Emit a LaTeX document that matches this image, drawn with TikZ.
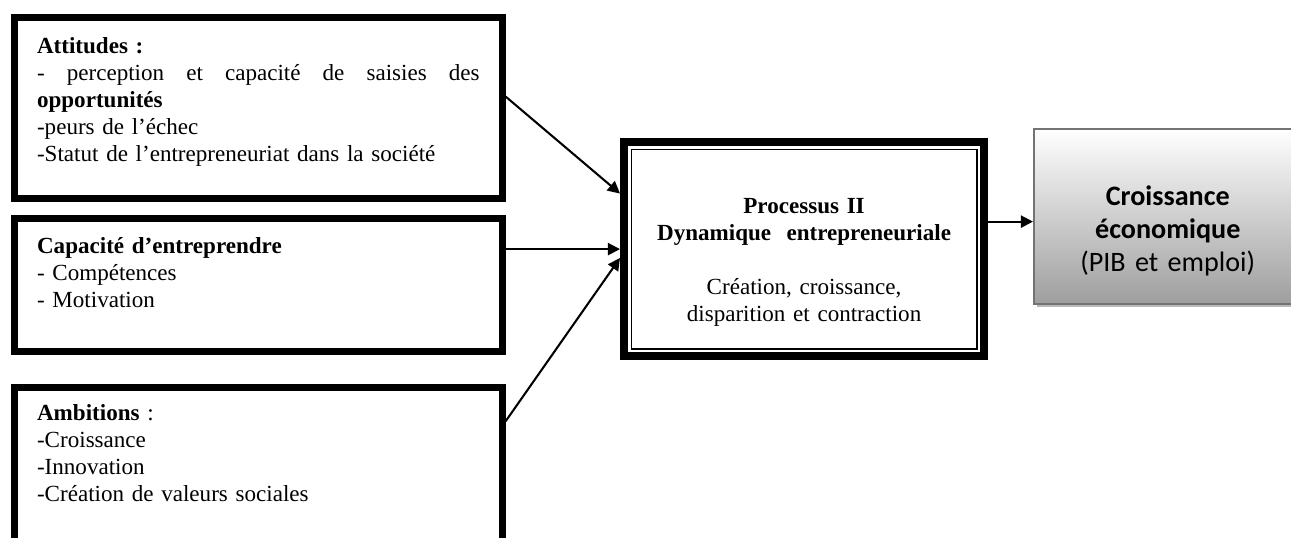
\documentclass[tikz,border=0pt]{standalone}
\usepackage{fontspec}
\setmainfont{Liberation Serif}
\newfontfamily\calibri{Carlito}
\usepackage{tikz}
\usetikzlibrary{calc}
\usetikzlibrary{arrows.meta}
\usetikzlibrary{positioning}
\usetikzlibrary{shadows}

\begin{document}
\begin{tikzpicture}[x=0.5333pt,y=-0.5333pt,
  factor/.style={draw,line width=3.8pt,align=left,text width=236pt,inner xsep=12pt,inner ysep=0pt,
    anchor=north west,font=\fontsize{12.3}{14.4}\selectfont},
  arr/.style={line width=1.1pt,-{Triangle[length=6.5pt,width=6.5pt]}}]

\useasboundingbox (0,0) rectangle (1291,537);
\clip (0,0) rectangle (1291,537);

% the three inputs on the left
\node[factor,text height=19pt,text depth=77.3pt] (att) at (11,14) {\textbf{Attitudes :}\\
\makebox[236pt][s]{\spaceskip=0pt\relax - perception et capacité de saisies des}\\
\textbf{opportunités}\\
-peurs de l’échec\\
-Statut de l’entrepreneuriat dans la société};

\node[factor,text height=19pt,text depth=52.2pt,below=6.9pt of att] (cap) {\textbf{Capacité d’entreprendre}\\
- Compétences\\
- Motivation};

\node[factor,text height=17.5pt,text depth=72.3pt,below=15.5pt of cap] (amb) {\textbf{Ambitions} :\\
-Croissance\\
-Innovation\\
-Création de valeurs sociales};

% process box, thick-thin frame
\node[draw,line width=4.3pt,anchor=north west,text width=192pt,inner sep=0pt,align=center,
  text height=37.9pt,text depth=76.3pt,font=\fontsize{12.3}{14.4}\selectfont] (proc) at (620,138)
  {\textbf{Processus II}\\\textbf{Dynamique\ \ entrepreneuriale}\\[14.4pt]
   Création, croissance,\\disparition et contraction};
\draw[line width=0.8pt] ($(proc.north west)+(11.3,11.3)$) rectangle ($(proc.south east)+(-11.3,-11.3)$);

% output
\node[draw=black!55,line width=0.8pt,top color=white,bottom color=black!38,
  drop shadow={shadow xshift=1.5pt,shadow yshift=-1.6pt,fill=black!28,opacity=1},
  anchor=north west,text width=142.9pt,inner sep=0pt,align=center,
  text height=41.1pt,text depth=52.3pt,font=\calibri\fontsize{15}{17.6}\selectfont] (growth) at (1033,128)
  {\textbf{Croissance}\\\textbf{économique}\\(PIB et emploi)};

\coordinate (gin) at ($(growth.north west)!0.53!(growth.south west)$);

\draw[arr] ($(att.north east)!0.44!(att.south east)$) -- ($(proc.north west)!0.25!(proc.south west)$);
\draw[arr] (proc.west -| cap.east) -- (proc.west);
\draw[arr] ($(amb.north east)!0.21!(amb.south east)$) -- ($(proc.north west)!0.54!(proc.south west)$);
\draw[arr] (proc.east |- gin) -- (gin);
\end{tikzpicture}
\end{document}
